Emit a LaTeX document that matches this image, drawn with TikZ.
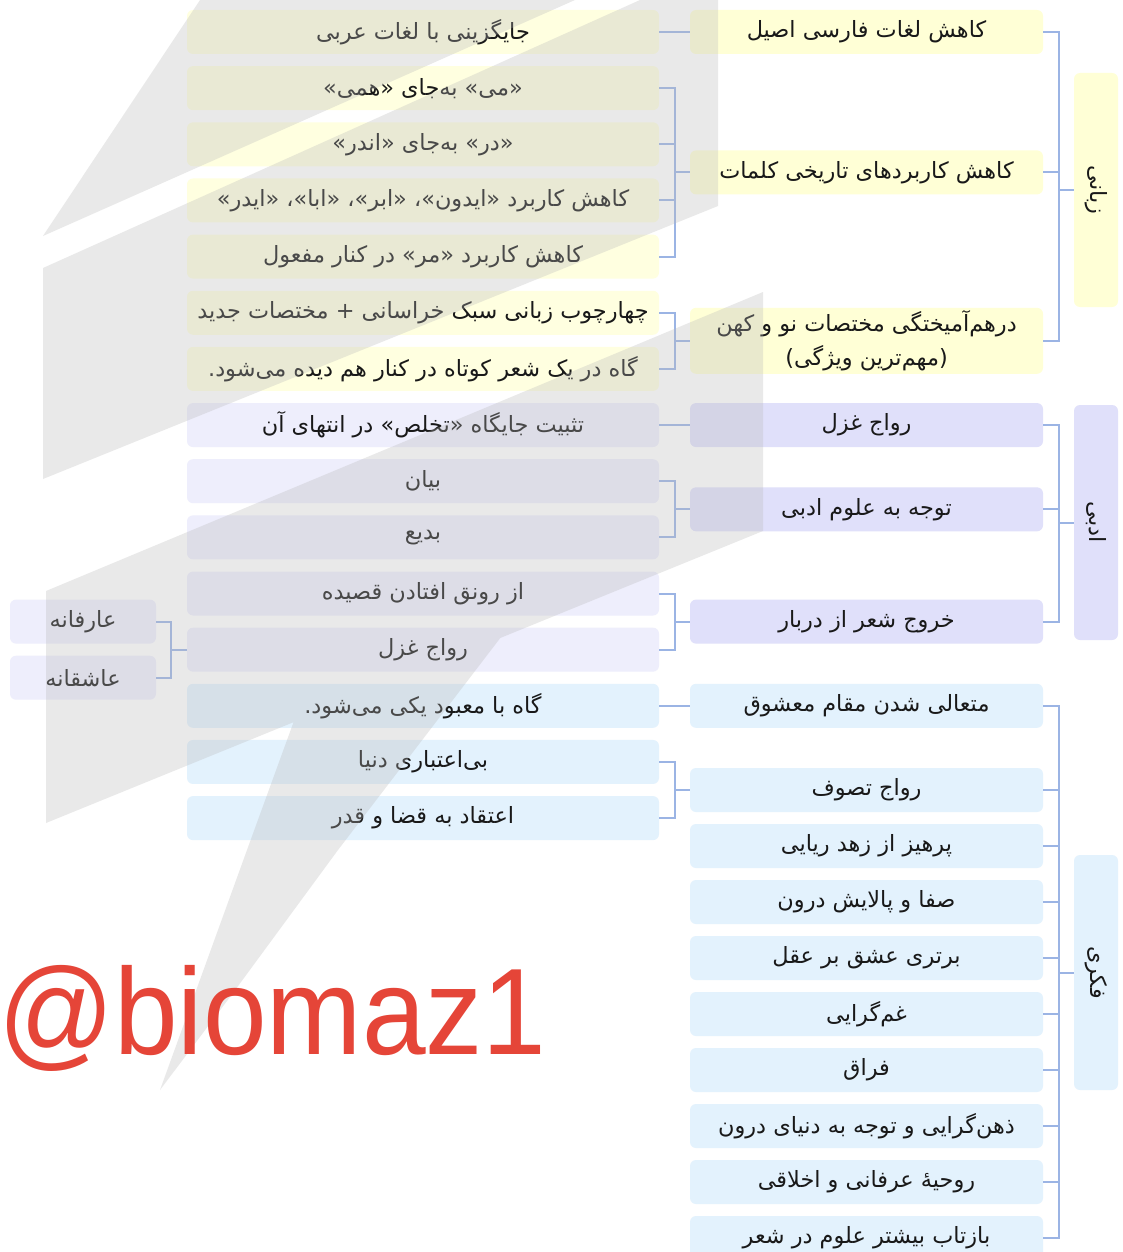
\documentclass[tikz,border=0pt]{standalone}
\usepackage{fontspec}
\setmainfont{DejaVu Sans}
\newfontfamily\fa[Script=Arabic]{DejaVu Sans}
\newfontfamily\wmfont{Liberation Sans}
\TeXXeTstate=1
\usetikzlibrary{calc}
\newcommand{\rl}[1]{\beginR#1\endR}
\definecolor{ylwM}{RGB}{255,255,214}
\definecolor{ylwL}{RGB}{255,255,224}
\definecolor{lavM}{RGB}{224,224,250}
\definecolor{lavL}{RGB}{238,238,252}
\definecolor{bluM}{RGB}{227,242,253}
\definecolor{bluL}{RGB}{227,242,253}
\definecolor{lnk}{RGB}{155,180,228}
\definecolor{txt}{RGB}{25,25,25}
\definecolor{wmred}{RGB}{229,69,56}
\definecolor{wmgray}{RGB}{185,185,185}
\tikzset{
  box/.style={rounded corners=6pt, inner sep=0pt, minimum height=44pt, text=txt, align=center,
    font={\fa\fontsize{22.4}{34}\selectfont}},
  leafbox/.style={box, minimum width=472pt},
  midbox/.style={box, minimum width=353pt},
  catbox/.style={box, rotate=-90, minimum height=44pt},
  farbox/.style={box, minimum width=146pt},
  conn/.style={draw=lnk, line width=2pt}
}
\begin{document}
\begin{tikzpicture}[x=1pt,y=-1pt]
\useasboundingbox (0,0) rectangle (1122,1252);
\clip (0,0) rectangle (1122,1252);
\fill[white] (0,0) rectangle (1122,1252);

% ---------- leaf column ----------
\node[leafbox, fill=ylwL] (l1) at (423,32.00) {\rl{جایگزینی با لغات عربی}};
\node[leafbox, fill=ylwL] (l2) at (423,88.15) {\rl{«می» به‌جای «همی»}};
\node[leafbox, fill=ylwL] (l3) at (423,144.30) {\rl{«در» به‌جای «اندر»}};
\node[leafbox, fill=ylwL] (l4) at (423,200.45) {\rl{کاهش کاربرد «ایدون»، «ابر»، «ابا»، «ایدر»}};
\node[leafbox, fill=ylwL] (l5) at (423,256.60) {\rl{کاهش کاربرد «مر» در کنار مفعول}};
\node[leafbox, fill=ylwL] (l6) at (423,312.75) {\rl{چهارچوب زبانی سبک خراسانی + مختصات جدید}};
\node[leafbox, fill=ylwL] (l7) at (423,368.90) {\rl{گاه در یک شعر کوتاه در کنار هم دیده می‌شود.}};
\node[leafbox, fill=lavL] (l8) at (423,425.05) {\rl{تثبیت جایگاه «تخلص» در انتهای آن}};
\node[leafbox, fill=lavL] (l9) at (423,481.20) {\rl{بیان}};
\node[leafbox, fill=lavL] (l10) at (423,537.35) {\rl{بدیع}};
\node[leafbox, fill=lavL] (l11) at (423,593.50) {\rl{از رونق افتادن قصیده}};
\node[leafbox, fill=lavL] (l12) at (423,649.65) {\rl{رواج غزل}};
\node[leafbox, fill=bluL] (l13) at (423,705.80) {\rl{گاه با معبود یکی می‌شود.}};
\node[leafbox, fill=bluL] (l14) at (423,761.95) {\rl{بی‌اعتباری دنیا}};
\node[leafbox, fill=bluL] (l15) at (423,818.10) {\rl{اعتقاد به قضا و قدر}};

% ---------- far left ----------
\node[farbox, fill=lavL] (f1) at (83,621.6) {\rl{عارفانه}};
\node[farbox, fill=lavL] (f2) at (83,677.7) {\rl{عاشقانه}};

% ---------- middle column ----------
\node[midbox, fill=ylwM] (m1) at (866.5,32.0) {\rl{کاهش لغات فارسی اصیل}};
\node[midbox, fill=ylwM] (m2) at (866.5,172.4) {\rl{کاهش کاربردهای تاریخی کلمات}};
\node[midbox, fill=ylwM, minimum height=66pt] (m3) at (866.5,340.8) {\rl{درهم‌آمیختگی مختصات نو و کهن}\\\rl{(مهم‌ترین ویژگی)}};
\node[midbox, fill=lavM] (m4) at (866.5,425.05) {\rl{رواج غزل}};
\node[midbox, fill=lavM] (m5) at (866.5,509.3) {\rl{توجه به علوم ادبی}};
\node[midbox, fill=lavM] (m6) at (866.5,621.6) {\rl{خروج شعر از دربار}};
\node[midbox, fill=bluM] (m7) at (866.5,705.8) {\rl{متعالی شدن مقام معشوق}};
\node[midbox, fill=bluM] (m8) at (866.5,790.0) {\rl{رواج تصوف}};
\node[midbox, fill=bluM] (m9) at (866.5,846.0) {\rl{پرهیز از زهد ریایی}};
\node[midbox, fill=bluM] (m10) at (866.5,902.0) {\rl{صفا و پالایش درون}};
\node[midbox, fill=bluM] (m11) at (866.5,958.0) {\rl{برتری عشق بر عقل}};
\node[midbox, fill=bluM] (m12) at (866.5,1014.0) {\rl{غم‌گرایی}};
\node[midbox, fill=bluM] (m13) at (866.5,1070.0) {\rl{فراق}};
\node[midbox, fill=bluM] (m14) at (866.5,1126.0) {\rl{ذهن‌گرایی و توجه به دنیای درون}};
\node[midbox, fill=bluM] (m15) at (866.5,1182.0) {\rl{روحیهٔ عرفانی و اخلاقی}};
\node[midbox, fill=bluM] (m16) at (866.5,1238.0) {\rl{بازتاب بیشتر علوم در شعر}};

% ---------- categories (rotated boxes: local south is the visual left side) ----------
\node[catbox, fill=ylwM, minimum width=234pt] (c1) at (1096,190) {\rl{زبانی}};
\node[catbox, fill=lavM, minimum width=235pt] (c2) at (1096,522.5) {\rl{ادبی}};
\node[catbox, fill=bluM, minimum width=235pt] (c3) at (1096,972.5) {\rl{فکری}};

% ---------- connectors ----------
\coordinate (t1) at ($(c1.south)+(-15,0)$);
\coordinate (t2) at ($(c2.south)+(-15,0)$);
\coordinate (t3) at ($(c3.south)+(-15,0)$);
\foreach \m in {m1,m2,m3} \draw[conn] (\m.east) -| (t1);
\draw[conn] (t1) -- (c1.south);
\foreach \m in {m4,m5,m6} \draw[conn] (\m.east) -| (t2);
\draw[conn] (t2) -- (c2.south);
\foreach \m in {m7,m8,m9,m10,m11,m12,m13,m14,m15,m16} \draw[conn] (\m.east) -| (t3);
\draw[conn] (t3) -- (c3.south);

\draw[conn] (l1.east) -- (m1.west);
\coordinate (s2) at ($(m2.west)+(-15,0)$);
\foreach \l in {l2,l3,l4,l5} \draw[conn] (\l.east) -| (s2);
\draw[conn] (s2) -- (m2.west);
\coordinate (s3) at ($(m3.west)+(-15,0)$);
\foreach \l in {l6,l7} \draw[conn] (\l.east) -| (s3);
\draw[conn] (s3) -- (m3.west);
\draw[conn] (l8.east) -- (m4.west);
\coordinate (s5) at ($(m5.west)+(-15,0)$);
\foreach \l in {l9,l10} \draw[conn] (\l.east) -| (s5);
\draw[conn] (s5) -- (m5.west);
\coordinate (s6) at ($(m6.west)+(-15,0)$);
\foreach \l in {l11,l12} \draw[conn] (\l.east) -| (s6);
\draw[conn] (s6) -- (m6.west);
\draw[conn] (l13.east) -- (m7.west);
\coordinate (s8) at ($(m8.west)+(-15,0)$);
\foreach \l in {l14,l15} \draw[conn] (\l.east) -| (s8);
\draw[conn] (s8) -- (m8.west);
\coordinate (r12) at ($(l12.west)+(-16,0)$);
\foreach \f in {f1,f2} \draw[conn] (\f.east) -| (r12);
\draw[conn] (r12) -- (l12.west);

% ---------- watermark ----------
\fill[wmgray, opacity=0.3, nonzero rule]
  (43,236) -- (200,0) -- (575,0) -- cycle
  (640,0) -- (718,0) -- (718,206) -- (43,479) -- (43,268) -- cycle
  (46,591) -- (763,292) -- (763,531) -- (46,823) -- cycle
  (338,600) -- (560,560) -- (338,850) -- (230,997) -- (160,1090) -- (247,850) -- cycle;

% ---------- handle ----------
\node[font={\wmfont\fontsize{123}{123}\selectfont}, text=wmred, anchor=base west, inner sep=0pt, xscale=0.93] (tag) at (-2,1054) {@biomaz1};
\end{tikzpicture}
\end{document}
